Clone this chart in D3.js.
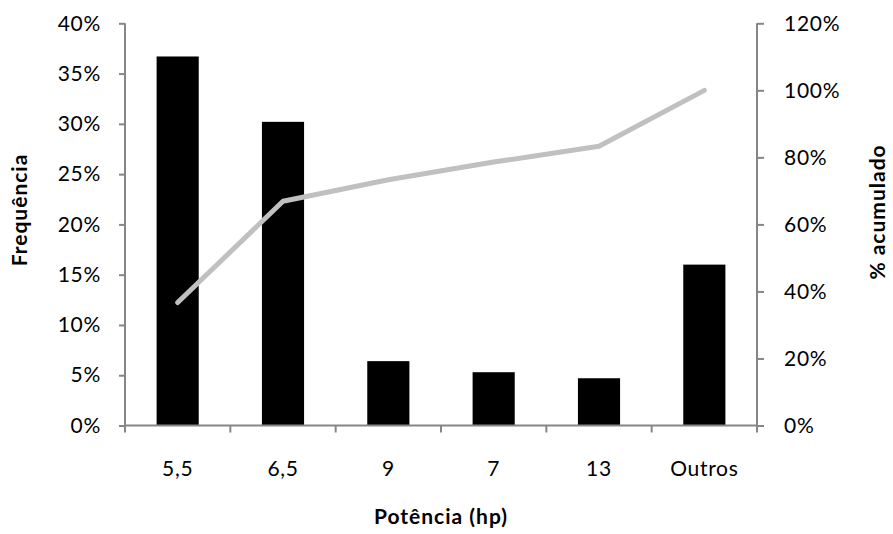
<!DOCTYPE html>
<html><head><meta charset="utf-8">
<script src="https://cdn.jsdelivr.net/npm/d3@7"></script>
<style>body{margin:0;background:#fff}svg{display:block}</style>
</head><body>
<svg id="c" width="893" height="534"></svg>
<script>
const categories = ["5,5","6,5","9","7","13","Outros"];
const frequency = [0.367, 0.302, 0.064, 0.053, 0.047, 0.160];
const cumulative = [0.367, 0.669, 0.733, 0.786, 0.833, 1.0];
const leftTicks = [0,0.05,0.10,0.15,0.20,0.25,0.30,0.35,0.40];
const rightTicks = [0,0.2,0.4,0.6,0.8,1.0,1.2];

const svg = d3.select("#c");
const L=125, R=757, T=23.3, B=425.5;
const font = "Lato, 'Open Sans', sans-serif";
const axisColor = "#868686";
const fs = 21, ls = "0.7px";

const x = d3.scaleBand().domain(categories).range([L,R]).paddingInner(0.6).paddingOuter(0.3);
const yL = d3.scaleLinear().domain([0,0.4]).range([B,T]);
const yR = d3.scaleLinear().domain([0,1.2]).range([B,T]);
const pct = d => Math.round(d*100)+"%";

// bars
svg.append("g").selectAll("rect").data(frequency).join("rect")
  .attr("x",(d,i)=>x(categories[i])).attr("width",x.bandwidth())
  .attr("y",d=>yL(d)).attr("height",d=>B-yL(d)).attr("fill","#000");

// left axis
const ga = svg.append("g").attr("transform",`translate(${L},0)`)
  .call(d3.axisLeft(yL).tickValues(leftTicks).tickFormat(pct).tickSize(6).tickPadding(18));
// right axis
const gb = svg.append("g").attr("transform",`translate(${R},0)`)
  .call(d3.axisRight(yR).tickValues(rightTicks).tickFormat(pct).tickSize(7).tickPadding(20));
// bottom axis: ticks at category boundaries
const step = x.step();
const bounds = d3.range(categories.length+1).map(i=>L+i*step);
const gx = svg.append("g").attr("transform",`translate(0,${B})`);
gx.append("line").attr("x1",L).attr("x2",R).attr("y1",0).attr("y2",0);
gx.selectAll("line.t").data(bounds).join("line").attr("class","t")
  .attr("x1",d=>d).attr("x2",d=>d).attr("y1",0).attr("y2",7);
gx.selectAll("line").attr("stroke",axisColor).attr("stroke-width",2);
gx.selectAll("text").data(categories).join("text")
  .attr("x",d=>x(d)+x.bandwidth()/2).attr("y",45).attr("text-anchor","middle")
  .attr("dominant-baseline","middle").text(d=>d);

[ga,gb].forEach(g=>{
  g.select(".domain").attr("stroke",axisColor).attr("stroke-width",2).attr("d",`M0,${T}V${B}`);
  g.selectAll(".tick line").attr("stroke",axisColor).attr("stroke-width",2);
});
svg.selectAll("text").attr("font-family",font).attr("font-size",fs).attr("letter-spacing",ls).attr("fill","#000");

// cumulative line
const line = d3.line().x((d,i)=>x(categories[i])+x.bandwidth()/2).y(d=>yR(d));
svg.append("path").datum(cumulative).attr("d",line).attr("fill","none")
  .attr("stroke","#c0c0c0").attr("stroke-width",5).attr("stroke-linecap","round").attr("stroke-linejoin","round");

// titles
function title(t, tr){
  svg.append("text").attr("transform",tr).attr("text-anchor","middle")
    .attr("dominant-baseline","middle").attr("font-family",font).attr("font-weight","bold")
    .attr("font-size",fs).attr("letter-spacing","1px").text(t);
}
title("Potência (hp)", `translate(${(L+R)/2},519)`);
title("Frequência", "translate(22,210) rotate(-90)");
title("% acumulado", "translate(880,212) rotate(-90)");
</script>
</body></html>
